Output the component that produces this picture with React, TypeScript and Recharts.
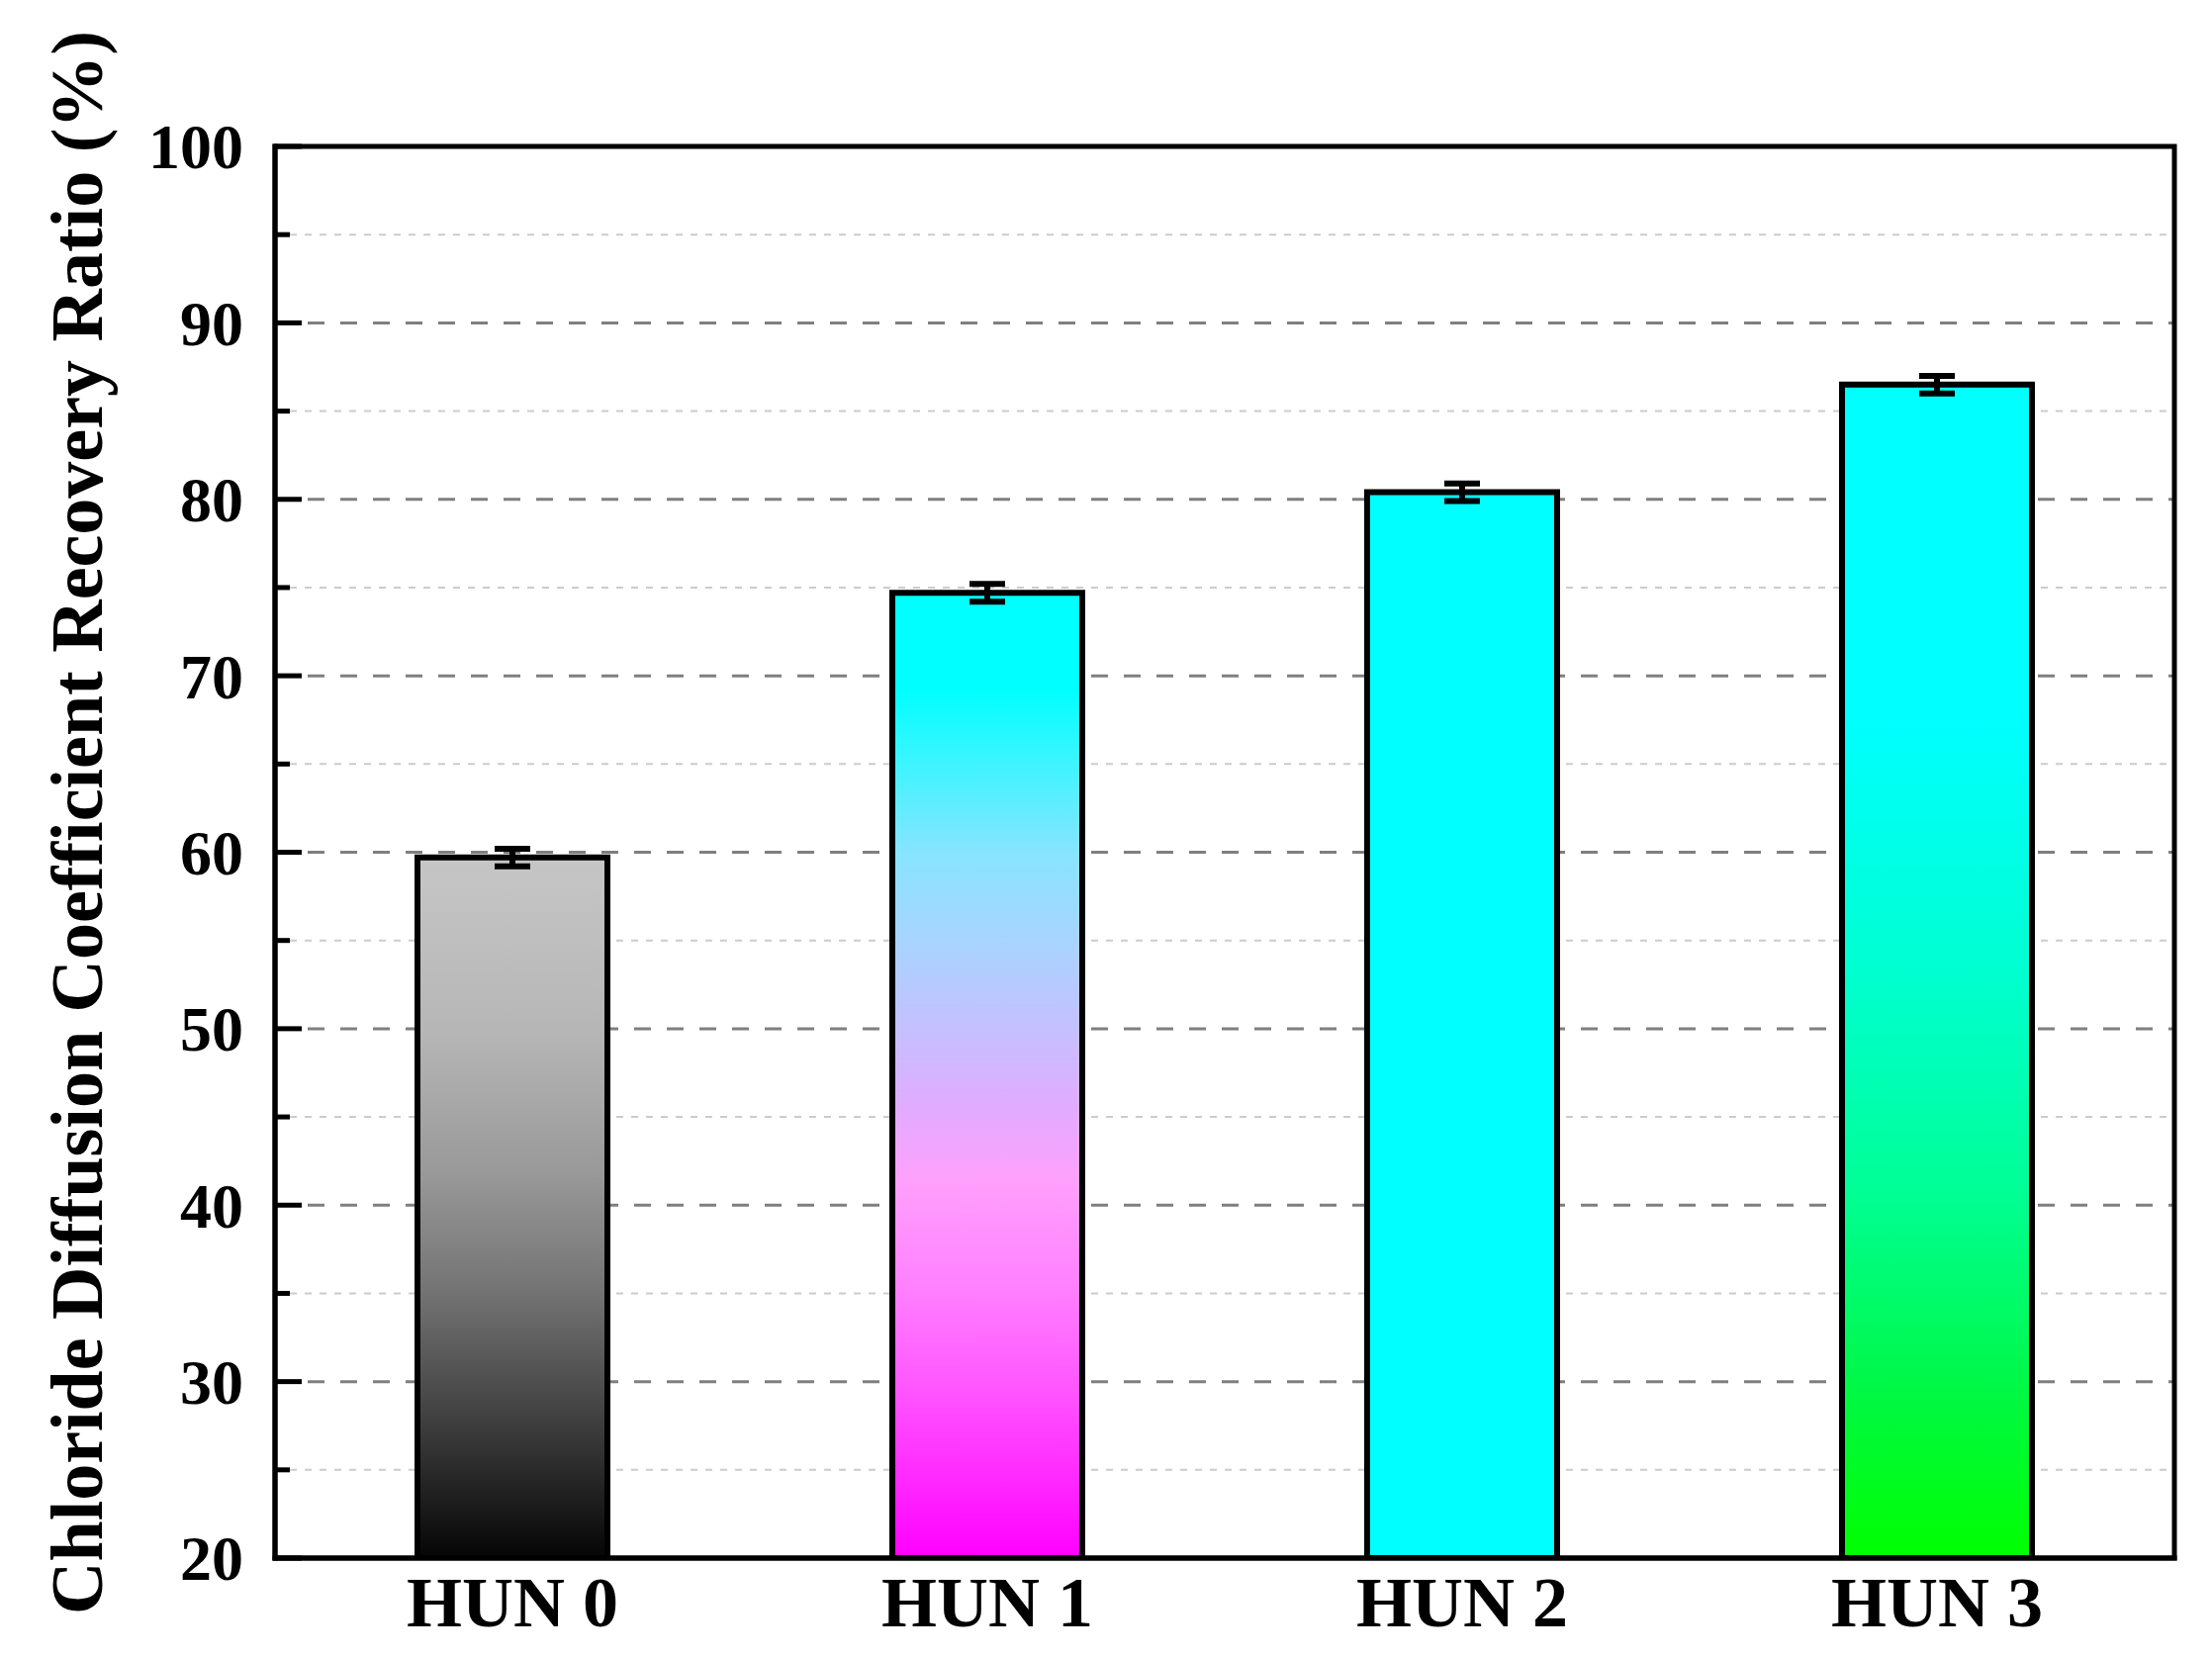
import { BarChart, Bar, XAxis, YAxis, CartesianGrid, ErrorBar, Cell, Label, ReferenceArea } from "recharts";

const categories = ["HUN 0", "HUN 1", "HUN 2", "HUN 3"];
const recoveryRatio = [59.7, 74.7, 80.4, 86.5];
const errorValues = [0.5, 0.5, 0.5, 0.5];
const yTicks = [20, 25, 30, 35, 40, 45, 50, 55, 60, 65, 70, 75, 80, 85, 90, 95, 100];
const majorTicks = [20, 30, 40, 50, 60, 70, 80, 90, 100];
const majorGrid = [30, 40, 50, 60, 70, 80, 90];
const minorGrid = [25, 35, 45, 55, 65, 75, 85, 95];
const yTitle = "Chloride Diffusion Coefficient Recovery Ratio (%)";

const font = "'Liberation Serif', 'Times New Roman', serif";

const fills = ["url(#gGray)", "url(#gMagenta)", "#00ffff", "url(#gGreen)"];

const data = categories.map((name, i) => ({
  name,
  value: recoveryRatio[i],
  err: errorValues[i],
}));

const YTick = (props: any) => {
  const { x, y, payload } = props;
  const axisX = x + 32;
  const isMajor = majorTicks.includes(payload.value);
  return (
    <g>
      <line x1={axisX} x2={axisX + (isMajor ? 27 : 15)} y1={y} y2={y} stroke="#000" strokeWidth={5} />
      {isMajor && (
        <text x={x} y={y} dy="0.35em" textAnchor="end" fill="#000" fontSize={64} fontWeight="bold" fontFamily={font}>
          {payload.value}
        </text>
      )}
    </g>
  );
};

export default function App() {
  return (
    <div style={{ width: 2236, height: 1675, background: "#fff" }}>
      <style>{`body{margin:0}`}</style>
      <BarChart
        width={2236}
        height={1675}
        data={data}
        margin={{ top: 148, right: 38, bottom: 0, left: 0 }}
        barCategoryGap="30%"
      >
        <defs>
          <linearGradient id="gGray" x1="0" y1="0" x2="0" y2="1">
            <stop offset="0" stopColor="#c6c6c6" />
            <stop offset="0.25" stopColor="#b6b6b6" />
            <stop offset="0.45" stopColor="#999999" />
            <stop offset="0.62" stopColor="#737373" />
            <stop offset="0.8" stopColor="#404040" />
            <stop offset="1" stopColor="#050505" />
          </linearGradient>
          <linearGradient id="gMagenta" x1="0" y1="0" x2="0" y2="1">
            <stop offset="0" stopColor="#00ffff" />
            <stop offset="0.1" stopColor="#00ffff" />
            <stop offset="0.18" stopColor="#40f4ff" />
            <stop offset="0.27" stopColor="#88e4ff" />
            <stop offset="0.36" stopColor="#a8d4ff" />
            <stop offset="0.45" stopColor="#c4c0ff" />
            <stop offset="0.53" stopColor="#e0acff" />
            <stop offset="0.61" stopColor="#ffa0fc" />
            <stop offset="0.72" stopColor="#ff80ff" />
            <stop offset="0.82" stopColor="#ff58ff" />
            <stop offset="0.92" stopColor="#ff28ff" />
            <stop offset="1" stopColor="#ff00ff" />
          </linearGradient>
          <linearGradient id="gGreen" x1="0" y1="0" x2="0" y2="1">
            <stop offset="0" stopColor="#00ffff" />
            <stop offset="0.28" stopColor="#00ffff" />
            <stop offset="0.5" stopColor="#00ffd0" />
            <stop offset="0.68" stopColor="#00ff98" />
            <stop offset="0.85" stopColor="#00f848" />
            <stop offset="1" stopColor="#00ff00" />
          </linearGradient>
        </defs>
        <CartesianGrid
          vertical={false}
          stroke="#cccccc"
          strokeWidth={2}
          strokeDasharray="7 8"
          horizontalValues={minorGrid}
        />
        <CartesianGrid
          vertical={false}
          stroke="#7f7f7f"
          strokeWidth={3}
          strokeDasharray="17 16"
          horizontalValues={majorGrid}
        />
        <XAxis
          dataKey="name"
          height={100}
          tickSize={0}
          tickMargin={18}
          tickLine={false}
          axisLine={{ stroke: "#000", strokeWidth: 5, strokeLinecap: "square" }}
          tick={{ fill: "#000", fontSize: 72, fontWeight: "bold", fontFamily: font }}
        />
        <YAxis
          width={278}
          domain={[20, 100]}
          ticks={yTicks}
          interval={0}
          allowDataOverflow
          tickSize={0}
          tickMargin={32}
          tickLine={false}
          tick={<YTick />}
          axisLine={{ stroke: "#000", strokeWidth: 5, strokeLinecap: "square" }}
        >
          <Label
            content={({ viewBox }: any) => {
              const cx = viewBox.x + 103;
              const cy = viewBox.y + viewBox.height / 2 - 30;
              return (
                <text
                  x={cx}
                  y={cy}
                  transform={`rotate(-90 ${cx} ${cy})`}
                  textAnchor="middle"
                  fill="#000"
                  fontSize={74}
                  fontWeight="bold"
                  fontFamily={font}
                >
                  {yTitle}
                </text>
              );
            }}
          />
        </YAxis>
        <ReferenceArea y1={20} y2={100} fill="none" fillOpacity={0} stroke="#000" strokeWidth={5} ifOverflow="visible" />
        <Bar dataKey="value" stroke="#000" strokeWidth={6} isAnimationActive={false}>
          {data.map((d, i) => (
            <Cell key={d.name} fill={fills[i]} />
          ))}
          <ErrorBar dataKey="err" direction="y" width={18} strokeWidth={6} stroke="#000" isAnimationActive={false} />
        </Bar>
      </BarChart>
    </div>
  );
}
